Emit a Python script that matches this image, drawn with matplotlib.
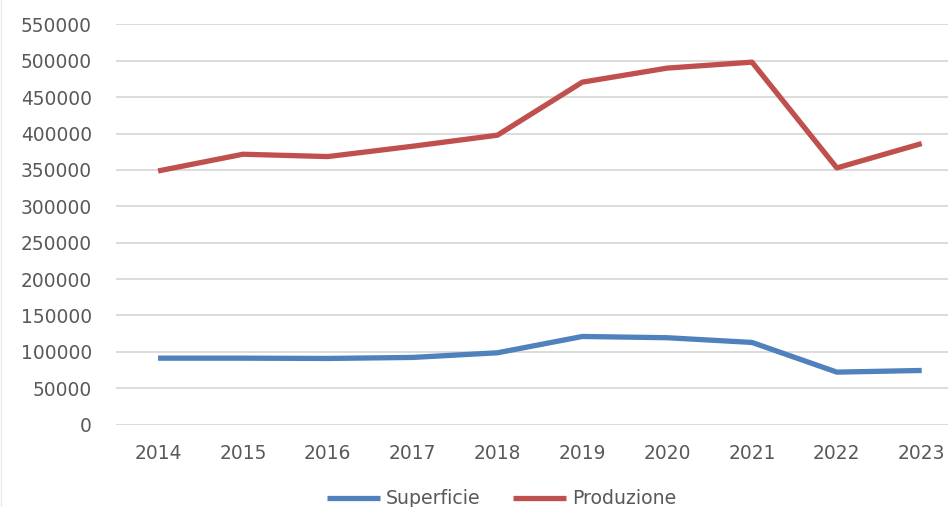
import matplotlib
matplotlib.use("Agg")
import matplotlib.pyplot as plt
from matplotlib.lines import Line2D

anni = ["2014", "2015", "2016", "2017", "2018", "2019", "2020", "2021", "2022", "2023"]
superficie = [91200, 91200, 90800, 92200, 98600, 121000, 119300, 112800, 72000, 74300]
produzione = [348500, 371500, 368300, 382500, 397700, 470600, 489900, 498100, 352700, 386200]

blu = "#4F81BD"
rosso = "#C0504D"
grigio = "#595959"

plt.rcParams["font.family"] = ["DejaVu Sans"]

fig = plt.figure(figsize=(9.48, 5.07), dpi=100)
ax = fig.add_axes([0.122, 0.1627, 0.895, 0.7892])

x = range(len(anni))
ax.plot(x, superficie, color=blu, lw=3.8, solid_capstyle="butt", label="Superficie", zorder=3)
ax.plot(x, produzione, color=rosso, lw=3.8, solid_capstyle="butt", label="Produzione", zorder=3)

ax.set_xlim(-0.5, len(anni) - 0.5)
ax.set_ylim(0, 550000)
ax.set_yticks(range(0, 550001, 50000))
ax.set_xticks(list(x))
ax.set_xticklabels(anni)
ax.yaxis.grid(True, color="#D9D9D9", lw=1.3)
ax.set_axisbelow(True)
for s in ax.spines.values():
    s.set_visible(False)
ax.tick_params(axis="both", length=0, labelsize=13.4, labelcolor=grigio)
ax.tick_params(axis="x", pad=14)
ax.tick_params(axis="y", pad=17)

fig.legend(loc="center", bbox_to_anchor=(0.529, 0.016), ncol=2, frameon=False,
           fontsize=13.6, labelcolor=grigio, handlelength=2.8, handletextpad=0.32,
           columnspacing=1.7)

# faint border on the left edge
fig.add_artist(Line2D([0.001, 0.001], [0, 1], color="#EBEBEB", lw=1.0))

fig.savefig("out.png", dpi=100)
